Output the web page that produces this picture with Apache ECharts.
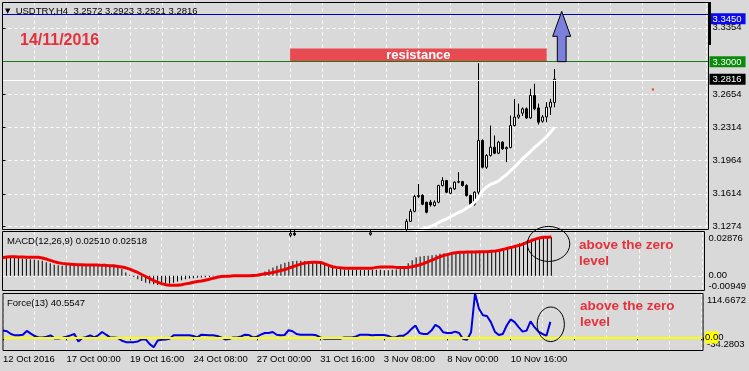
<!DOCTYPE html>
<html><head><meta charset="utf-8">
<script src="https://cdn.jsdelivr.net/npm/echarts@6/dist/echarts.min.js"></script>
<style>html,body{margin:0;padding:0;background:#d9d9d9;}#c{width:749px;height:371px;}</style>
</head><body><div id="c"></div>
<script>
// ---------- data ----------
const symbolName = 'USDTRY,H4';
const lastBar = [3.2572, 3.2923, 3.2521, 3.2816]; // O H L C
const chartDate = '14/11/2016';
const barCount = 139;
const xMax = 176.5;                   // bars + empty chart-shift space
const xTickLabels = ['12 Oct 2016','17 Oct 00:00','19 Oct 16:00','24 Oct 08:00','27 Oct 00:00','31 Oct 16:00','3 Nov 08:00','8 Nov 00:00','10 Nov 16:00'];
const xTickEvery = 16;
const xGridEvery = 8;

// main price scale
const priceMin = 3.1240, priceMax = 3.3620;
const priceGridTicks = [3.3354, 3.3004, 3.2654, 3.2314, 3.1964, 3.1614, 3.1274];
const priceTickLabels = [3.3354, 3.2654, 3.2314, 3.1964, 3.1614, 3.1274];
const levelBlue = 3.3450, levelGreen = 3.3000, levelBid = 3.2816;

// visible candles (bar index, open, high, low, close)
const candleIdx   = [72,73,92,101,102,103,104,105,106,107,108,109,110,111,112,113,114,115,116,117,118,119,120,121,122,123,124,125,126,127,128,129,130,131,132,133,134,135,136,137,138];
const candleOpen  = [3.1180,3.1200,3.1190,3.1240,3.1326,3.1431,3.1585,3.1598,3.1526,3.1526,3.1491,3.1526,3.1701,3.1753,3.1620,3.1666,3.1736,3.1742,3.1701,3.1596,3.1505,3.1631,3.2173,3.1893,3.2016,3.2103,3.2040,3.2156,3.2086,3.2100,3.2330,3.2418,3.2460,3.2505,3.2410,3.2645,3.2515,3.2375,3.2420,3.2523,3.2572];
const candleHigh  = [3.1245,3.1244,3.1243,3.1351,3.1456,3.1603,3.1718,3.1610,3.1530,3.1550,3.1545,3.1710,3.1788,3.1760,3.1680,3.1745,3.1841,3.1750,3.1715,3.1605,3.1640,3.2984,3.2185,3.2030,3.2330,3.2226,3.2170,3.2165,3.2110,3.2435,3.2610,3.2560,3.2520,3.2520,3.2715,3.2768,3.2560,3.2440,3.2575,3.2610,3.2923];
const candleLow   = [3.1160,3.1170,3.1175,3.1225,3.1318,3.1420,3.1572,3.1495,3.1410,3.1480,3.1480,3.1515,3.1690,3.1620,3.1610,3.1655,3.1725,3.1690,3.1585,3.1495,3.1490,3.1600,3.1880,3.1876,3.2005,3.2030,3.2030,3.2075,3.1946,3.2090,3.2320,3.2400,3.2430,3.2400,3.2400,3.2490,3.2340,3.2360,3.2365,3.2440,3.2521];
const candleClose = [3.1200,3.1185,3.1205,3.1326,3.1431,3.1585,3.1598,3.1505,3.1421,3.1498,3.1526,3.1701,3.1753,3.1631,3.1673,3.1736,3.1742,3.1701,3.1596,3.1505,3.1631,3.2173,3.1893,3.2016,3.2103,3.2040,3.2156,3.2086,3.2100,3.2330,3.2418,3.2440,3.2505,3.2410,3.2645,3.2505,3.2365,3.2420,3.2523,3.2575,3.2816];

// white moving average (starts at bar 103)
const maStart = 103;
const maValues = [3.1215,3.1230,3.1242,3.1256,3.1272,3.1288,3.1313,3.1332,3.1352,3.1374,
  3.1396,3.1418,3.1437,3.1462,3.1488,3.1525,3.1575,3.1645,3.1685,3.1712,
  3.1730,3.1748,3.1783,3.1816,3.1855,3.1893,3.1937,3.1980,3.2020,3.2057,
  3.2100,3.2134,3.2172,3.2210,3.2260,3.2313];

// resistance box, arrow, marker dot
const resistance = {name: 'resistance', fromBar: 71.9, toBar: 136.05, low: 3.3000, high: 3.3138};
const arrow = [139.8, 3.3000, 3.3265, 3.3527]; // bar, base, neck, tip
const redDot = [162.6, 3.2708];

// MACD(12,26,9)
const macdMin = -0.00949, macdMax = 0.02876;
const macdMain = [
  0.0120,0.0120,0.0120,0.0120,0.0115,0.0111,0.0109,0.0107,0.0105,0.0102,
  0.0098,0.0089,0.0081,0.0072,0.0068,0.0065,0.0068,0.0068,0.0068,0.0070,
  0.0072,0.0072,0.0072,0.0072,0.0072,0.0072,0.0068,0.0068,0.0065,0.0059,
  0.0044,0.0022,0.0007,-0.0007,-0.0022,-0.0033,-0.0044,-0.0050,-0.0054,-0.0059,
  -0.0061,-0.0059,-0.0050,-0.0044,-0.0037,-0.0028,-0.0022,-0.0017,-0.0015,-0.0013,
  -0.0011,-0.0009,-0.0007,-0.0004,-0.0002,-0.0001,0.0000,0.0001,0.0001,0.0002,
  0.0002,0.0003,0.0004,0.0006,0.0007,0.0015,0.0028,0.0041,0.0054,0.0065,
  0.0076,0.0085,0.0092,0.0096,0.0098,0.0098,0.0096,0.0094,0.0089,0.0085,
  0.0081,0.0072,0.0063,0.0054,0.0048,0.0044,0.0041,0.0041,0.0041,0.0041,
  0.0041,0.0039,0.0039,0.0039,0.0039,0.0039,0.0037,0.0037,0.0039,0.0041,
  0.0044,0.0059,0.0081,0.0102,0.0120,0.0126,0.0129,0.0131,0.0133,0.0137,
  0.0144,0.0146,0.0148,0.0150,0.0153,0.0153,0.0150,0.0146,0.0148,0.0163,
  0.0163,0.0161,0.0163,0.0163,0.0166,0.0168,0.0170,0.0181,0.0192,0.0200,
  0.0211,0.0220,0.0233,0.0240,0.0242,0.0246,0.0248,0.0251,0.02510];
const macdSignal = [
  0.0118,0.0122,0.0124,0.0124,0.0122,0.0122,0.0120,0.0120,0.0120,0.0120,
  0.0116,0.0109,0.0100,0.0092,0.0085,0.0081,0.0078,0.0076,0.0074,0.0072,
  0.0072,0.0070,0.0070,0.0070,0.0070,0.0068,0.0068,0.0065,0.0065,0.0061,
  0.0057,0.0052,0.0044,0.0033,0.0022,0.0009,-0.0004,-0.0017,-0.0031,-0.0041,
  -0.0050,-0.0057,-0.0061,-0.0061,-0.0061,-0.0057,-0.0052,-0.0048,-0.0041,-0.0037,
  -0.0033,-0.0028,-0.0022,-0.0015,-0.0009,-0.0004,-0.0002,-0.0002,0.0000,0.0000,
  0.0000,0.0000,0.0000,0.0002,0.0004,0.0009,0.0013,0.0017,0.0022,0.0028,
  0.0035,0.0041,0.0050,0.0059,0.0068,0.0076,0.0083,0.0087,0.0089,0.0089,
  0.0087,0.0078,0.0068,0.0059,0.0055,0.0052,0.0050,0.0050,0.0050,0.0050,
  0.0050,0.0050,0.0050,0.0050,0.0055,0.0057,0.0057,0.0057,0.0057,0.0055,
  0.0055,0.0055,0.0055,0.0059,0.0065,0.0072,0.0081,0.0092,0.0102,0.0113,
  0.0124,0.0133,0.0139,0.0146,0.0150,0.0153,0.0153,0.0155,0.0155,0.0155,
  0.0157,0.0157,0.0157,0.0159,0.0161,0.0166,0.0172,0.0179,0.0185,0.0192,
  0.0198,0.0207,0.0218,0.0229,0.0238,0.0246,0.0250,0.0251,0.02518];

// Force(13)
const forceMin = -34.2803, forceMax = 114.6672, forceLevel = 0;
const forceValues = [
  17.7,16.0,8.9,5.3,5.3,7.0,16.8,9.8,3.5,0,
  0,1.8,5.3,-2.7,-2.7,-0.9,1.8,5.3,8.9,-10.6,
  -1.8,0.9,5.3,0,5.3,14.2,7.0,0,0,-1.8,
  -8.9,-12.4,-12.4,-12.4,-10.6,-5.3,-5.3,-17.7,-25.7,-8.0,
  -6.2,-5.3,-3.5,5.3,5.3,5.3,5.3,5.3,3.5,0,
  7.0,6.2,5.3,5.3,3.5,0,-5.3,-4.4,0,0,
  2.7,7.0,6.2,0,1.8,7.0,11.5,11.5,14.2,7.0,
  5.3,6.2,18.6,16.0,8.9,7.0,7.0,7.0,7.0,5.3,
  0,-3.5,-3.5,-3.5,-3.5,-3.5,0,0,0,2.7,
  7.0,7.0,7.0,5.3,6.2,6.2,6.2,4.4,0,0,
  4.4,4.4,11.5,22.2,31.0,11.5,8.9,8.9,17.7,32.8,
  26.6,13.3,11.5,11.5,15.0,11.5,-4.4,-6.2,13.3,114.6672,
  75.0,57.6,55.8,39.9,15.0,6.2,8.9,31.0,47.0,39.9,
  26.6,15.0,17.7,41.7,26.6,15.0,8.9,4.4,40.5547];

// annotation ellipses: [bar, centre value, x-radius in bars, y-radius in value]
const macdCircle = [137.3, 0.0207, 5.33, 0.01135];
const forceCircle = [138.1, 34.2, 3.43, 45.2];
const noteText = 'above the zero\nlevel';

// ---------- build ----------
const candleData = candleIdx.map((b, k) => [b, candleOpen[k], candleClose[k], candleLow[k], candleHigh[k]]);
const maData = maValues.map((v, k) => [maStart + k, v]);
const macdMainData = macdMain.map((v, i) => [i, v]);
const macdSignalData = macdSignal.map((v, i) => [i, v]);
const forceData = forceValues.map((v, i) => [i, v]);

const FONT = 'Liberation Sans';
const RED = '#e3323b';
const gridCommon = {left: 2.5, width: 706, show: true, z: 10, borderColor: '#000', borderWidth: 1, backgroundColor: 'transparent'};
const dashed = {color: '#ffffff', type: [3, 3], width: 1};

function xAxisFor(gridIndex, showLabels) {
  const ax = {
    type: 'value', gridIndex, min: 0, max: xMax, interval: xGridEvery,
    axisLine: {show: false},
    axisTick: {show: false},
    axisLabel: {show: false},
    splitLine: {show: true, lineStyle: dashed}
  };
  if (showLabels) {
    ax.interval = xTickEvery;
    ax.axisTick = {show: true, length: 3, lineStyle: {color: '#000'}};
    ax.axisLabel = {show: true, align: 'left', margin: 4, fontSize: 9.5, color: '#000', fontFamily: FONT,
      showMinLabel: true, showMaxLabel: true, hideOverlap: false,
      formatter: (v) => xTickLabels[v / xTickEvery] || ''};
    ax.minorTick = {show: false, splitNumber: xTickEvery / xGridEvery};
    ax.minorSplitLine = {show: true, lineStyle: dashed};
  }
  return ax;
}

const specialPrice = {};
specialPrice[levelBlue.toFixed(4)] = 'bl';
specialPrice[levelGreen.toFixed(4)] = 'gr';
specialPrice[levelBid.toFixed(4)] = 'bk';
const labelRich = {
  n: {fontSize: 9.5, color: '#000', fontFamily: FONT, padding: [0, 0, 0, 3]},
  bl: {fontSize: 9.5, color: '#fff', fontFamily: FONT, backgroundColor: '#0a0aeb', padding: [1, 4, 0, 3]},
  gr: {fontSize: 9.5, color: '#fff', fontFamily: FONT, backgroundColor: '#0b8a0b', padding: [1, 4, 0, 3]},
  bk: {fontSize: 9.5, color: '#fff', fontFamily: FONT, backgroundColor: '#000', padding: [1, 4, 0, 3]},
  top: {fontSize: 9.5, color: '#000', fontFamily: FONT, padding: [13, 0, 0, 1]},
  bot: {fontSize: 9.5, color: '#000', fontFamily: FONT, padding: [0, 0, 9, 1]},
  botf: {fontSize: 9.5, color: '#000', fontFamily: FONT, padding: [0, 0, 13, 1]},
  mid: {fontSize: 9.5, color: '#000', fontFamily: FONT, padding: [0, 0, 0, 1]}
};

const priceLabelValues = [levelBlue, levelGreen, levelBid].concat(priceTickLabels);

const option = {
  animation: false,
  backgroundColor: '#d9d9d9',
  textStyle: {fontFamily: FONT},
  title: [
    {text: '{t|▼}  ' + symbolName + '  ' + lastBar.map(v => v.toFixed(4)).join(' '), left: 5, top: 5, padding: 0,
     textStyle: {fontSize: 9.5, fontWeight: 'normal', color: '#000', lineHeight: 12, fontFamily: FONT,
       rich: {t: {fontSize: 7, fontFamily: 'DejaVu Sans', color: '#000', lineHeight: 12}}}},
    {text: chartDate, left: 20, top: 32, padding: 0,
     textStyle: {fontSize: 16, fontWeight: 'bold', color: RED, lineHeight: 18, fontFamily: FONT}},
    {text: 'MACD(12,26,9) ' + macdMain[barCount - 1].toFixed(5) + ' ' + macdSignal[barCount - 1].toFixed(5), left: 7, top: 235, padding: 0,
     textStyle: {fontSize: 9.5, fontWeight: 'normal', color: '#000', lineHeight: 12, fontFamily: FONT}},
    {text: 'Force(13) ' + forceValues[barCount - 1].toFixed(4), left: 7, top: 297, padding: 0,
     textStyle: {fontSize: 9.5, fontWeight: 'normal', color: '#000', lineHeight: 12, fontFamily: FONT}},
    {text: noteText, left: 579, top: 238, padding: 0,
     textStyle: {fontSize: 13.5, fontWeight: 'bold', color: RED, lineHeight: 15.5, fontFamily: FONT}},
    {text: noteText, left: 580, top: 299, padding: 0,
     textStyle: {fontSize: 13.5, fontWeight: 'bold', color: RED, lineHeight: 15.5, fontFamily: FONT}}
  ],
  grid: [
    Object.assign({top: 2.5, height: 227}, gridCommon),
    Object.assign({top: 231.5, height: 59}, gridCommon),
    Object.assign({top: 293.5, height: 57}, gridCommon)
  ],
  xAxis: [xAxisFor(0, false), xAxisFor(1, false), xAxisFor(2, true)],
  yAxis: [
    {type: 'value', gridIndex: 0, position: 'right', min: priceMin, max: priceMax,
     axisLine: {show: false},
     axisTick: {show: true, length: 3, lineStyle: {color: '#000'}, customValues: priceGridTicks},
     axisLabel: {margin: 1, customValues: priceLabelValues, showMinLabel: true, showMaxLabel: true, hideOverlap: false,
       formatter: (v) => { const s = v.toFixed(4); return '{' + (specialPrice[s] || 'n') + '|' + s + '}'; },
       rich: labelRich},
     splitLine: {show: true, lineStyle: dashed}},
    {type: 'value', gridIndex: 1, position: 'right', min: macdMin, max: macdMax,
     axisLine: {show: false},
     axisTick: {show: false, customValues: [0]},
     axisLabel: {margin: 3, customValues: [macdMax, 0, macdMin], showMinLabel: true, showMaxLabel: true, hideOverlap: false,
       formatter: (v) => v === macdMax ? '{top|' + macdMax.toFixed(5) + '}' : (v === macdMin ? '{bot|' + macdMin.toFixed(5) + '}' : '{mid|0.00}'),
       rich: labelRich},
     splitLine: {show: true, lineStyle: dashed}},
    {type: 'value', gridIndex: 2, position: 'right', min: forceMin, max: forceMax,
     axisLine: {show: false},
     axisTick: {show: false},
     axisLabel: {margin: 3, customValues: [forceMax, forceMin], showMinLabel: true, showMaxLabel: true, hideOverlap: false,
       formatter: (v) => v === forceMax ? '{top|' + forceMax.toFixed(4) + '}' : '{botf|' + forceMin.toFixed(4) + '}',
       rich: labelRich},
     splitLine: {show: false}}
  ],
  series: [
    {type: 'candlestick', xAxisIndex: 0, yAxisIndex: 0, data: candleData, encode: {x: 0, y: [1, 2, 3, 4]},
     barWidth: 3, clip: true,
     itemStyle: {color: '#ffffff', color0: '#000000', borderColor: '#000000', borderColor0: '#000000', borderWidth: 1},
     markArea: {silent: true,
       itemStyle: {color: '#e84a52', opacity: 1},
       label: {show: true, position: 'inside', color: '#ffffff', fontWeight: 'bold', fontSize: 13, fontFamily: FONT},
       data: [[{name: resistance.name, xAxis: resistance.fromBar, yAxis: resistance.high}, {xAxis: resistance.toBar, yAxis: resistance.low}]]},
     markLine: {silent: true, symbol: ['none', 'none'], label: {show: false},
       lineStyle: {type: 'solid', width: 1},
       data: [
         {yAxis: levelBlue, lineStyle: {color: '#0000c0', type: 'solid', width: 1}},
         {yAxis: levelGreen, lineStyle: {color: '#1a7a1a', type: 'solid', width: 1}},
         {yAxis: levelBid, lineStyle: {color: '#ffffff', type: 'solid', width: 1}}
       ]}},
    {type: 'line', xAxisIndex: 0, yAxisIndex: 0, data: maData, symbol: 'none', clip: true,
     lineStyle: {color: '#ffffff', width: 3}, z: 3},
    {type: 'custom', xAxisIndex: 0, yAxisIndex: 0, data: [arrow], z: 6,
     renderItem: (params, api) => {
       const b = api.coord([api.value(0), api.value(1)]);
       const n = api.coord([api.value(0), api.value(2)]);
       const t = api.coord([api.value(0), api.value(3)]);
       const sw = 4.4, hw = 9;
       return {type: 'polygon', shape: {points: [[b[0] - sw, b[1]], [b[0] - sw, n[1]], [b[0] - hw, n[1]], [t[0], t[1]], [b[0] + hw, n[1]], [b[0] + sw, n[1]], [b[0] + sw, b[1]]]},
         style: {fill: '#7b80dc', stroke: '#000', lineWidth: 1}};
     }},
    {type: 'scatter', xAxisIndex: 0, yAxisIndex: 0, data: [redDot], symbol: 'rect', symbolSize: 2,
     itemStyle: {color: '#ff0000'}},
    {type: 'bar', xAxisIndex: 1, yAxisIndex: 1, data: macdMainData, barWidth: 1,
     itemStyle: {color: '#000000'}},
    {type: 'line', xAxisIndex: 1, yAxisIndex: 1, data: macdSignalData, symbol: 'none',
     lineStyle: {color: '#f00000', width: 3}, z: 3},
    {type: 'custom', xAxisIndex: 1, yAxisIndex: 1, data: [macdCircle], z: 6,
     renderItem: (params, api) => {
       const c = api.coord([api.value(0), api.value(1)]);
       const s = api.size([api.value(2), api.value(3)]);
       return {type: 'ellipse', shape: {cx: c[0], cy: c[1], rx: s[0], ry: s[1]}, style: {fill: 'none', stroke: '#000', lineWidth: 1}};
     }},
    {type: 'line', xAxisIndex: 2, yAxisIndex: 2, data: forceData, symbol: 'none',
     lineStyle: {color: '#0000e0', width: 2},
     markLine: {silent: true, symbol: ['none', 'none'],
       label: {show: true, position: 'end', distance: 2, formatter: '{y|0.0}0', color: '#000', fontSize: 9.5, fontFamily: FONT,
         rich: {y: {backgroundColor: '#ffff00', color: '#000', fontSize: 9.5, fontFamily: FONT, padding: [1, 0, 1, 0]}}},
       data: [{yAxis: forceLevel, lineStyle: {color: '#ffff00', type: 'solid', width: 2}}]}},
    {type: 'custom', xAxisIndex: 2, yAxisIndex: 2, data: [forceCircle], z: 6,
     renderItem: (params, api) => {
       const c = api.coord([api.value(0), api.value(1)]);
       const s = api.size([api.value(2), api.value(3)]);
       return {type: 'ellipse', shape: {cx: c[0], cy: c[1], rx: s[0], ry: s[1]}, style: {fill: 'none', stroke: '#000', lineWidth: 1}};
     }}
  ],
  graphic: [
    {type: 'rect', shape: {x: 708, y: 2, width: 3, height: 43}, style: {fill: '#000'}, silent: true, z: 20}
  ]
};

const chart = echarts.init(document.getElementById('c'), null, {renderer: 'canvas'});
chart.setOption(option);
</script>
</body></html>
